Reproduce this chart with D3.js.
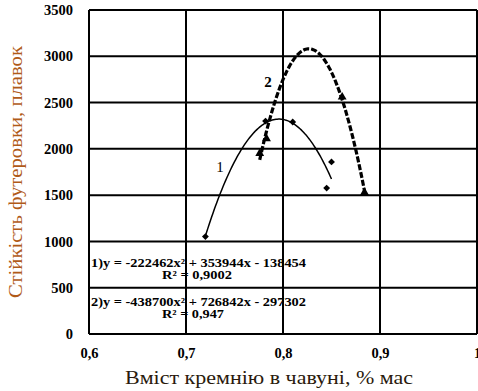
<!DOCTYPE html>
<html>
<head>
<meta charset="utf-8">
<script src="https://cdn.jsdelivr.net/npm/d3@7"></script>
<style>
  html, body { margin: 0; padding: 0; background: #fff; }
  svg { display: block; }
</style>
</head>
<body>
<svg id="chart" width="478" height="391"></svg>
<script>
// Silicon content in cast iron, % mass vs lining durability, heats
const xTicks = [0.6, 0.7, 0.8, 0.9, 1.0];
const yTicks = [0, 500, 1000, 1500, 2000, 2500, 3000, 3500];

const s1x = [0.72, 0.782, 0.81, 0.845, 0.85];
const s1y = [1052, 2300, 2290, 1576, 1859];

const s2x = [0.776, 0.783, 0.861, 0.884];
const s2y = [1950, 2110, 2560, 1530];

const eqLines = [
  { text: '1)y = -222462x\u00b2 + 353944x - 138454', r2: 'R\u00b2 = 0,9002' },
  { text: '2)y = -438700x\u00b2 + 726842x - 297302', r2: 'R\u00b2 = 0,947' }
];

const svg = d3.select('#chart');
const M = { left: 89, right: 477, top: 10, bottom: 334 };
const serif = '"Liberation Serif", serif';

const x = d3.scaleLinear().domain([0.6, 1.0]).range([M.left, M.right]);
const y = d3.scaleLinear().domain([0, 3500]).range([M.bottom, M.top]);
const fmtX = v => (v === 1 ? '1' : d3.format('.1f')(v).replace('.', ','));

// Quadratic least squares fit (Excel-style polynomial trendline)
function fitQuad(xs, ys) {
  const n = xs.length;
  let s = [0, 0, 0, 0, 0], t = [0, 0, 0];
  for (let i = 0; i < n; i++) {
    for (let k = 0; k < 5; k++) s[k] += Math.pow(xs[i], k);
    for (let k = 0; k < 3; k++) t[k] += ys[i] * Math.pow(xs[i], k);
  }
  const A = [[s[0], s[1], s[2], t[0]], [s[1], s[2], s[3], t[1]], [s[2], s[3], s[4], t[2]]];
  for (let i = 0; i < 3; i++) {
    for (let j = i + 1; j < 3; j++) {
      const f = A[j][i] / A[i][i];
      for (let k = i; k < 4; k++) A[j][k] -= f * A[i][k];
    }
  }
  const c = [0, 0, 0];
  for (let i = 2; i >= 0; i--) {
    let v = A[i][3];
    for (let k = i + 1; k < 3; k++) v -= A[i][k] * c[k];
    c[i] = v / A[i][i];
  }
  return xv => c[0] + c[1] * xv + c[2] * xv * xv;
}

// Grid
const grid = svg.append('g').attr('stroke', '#000').attr('stroke-width', 2);
grid.selectAll('.gx').data(xTicks).enter().append('line')
  .attr('x1', d => x(d)).attr('x2', d => x(d))
  .attr('y1', M.top).attr('y2', M.bottom);
grid.selectAll('.gy').data(yTicks).enter().append('line')
  .attr('x1', M.left).attr('x2', M.right)
  .attr('y1', d => y(d)).attr('y2', d => y(d));

// Tick labels
const yAxis = d3.axisLeft(y).tickValues(yTicks).tickFormat(d3.format('d')).tickSize(0).tickPadding(16);
svg.append('g').attr('transform', `translate(${M.left},0)`).call(yAxis)
  .call(g => g.select('.domain').remove())
  .selectAll('text')
  .attr('font-family', serif).attr('font-weight', 'bold')
  .attr('font-size', 14.5).attr('fill', '#000');

const xAxis = d3.axisBottom(x).tickValues(xTicks).tickFormat(fmtX).tickSize(0).tickPadding(14);
svg.append('g').attr('transform', `translate(0,${M.bottom})`).call(xAxis)
  .call(g => g.select('.domain').remove())
  .selectAll('text')
  .attr('font-family', serif).attr('font-weight', 'bold')
  .attr('font-size', 14.5).attr('fill', '#000');

// Trendlines
function trend(xs, ys) {
  const f = fitQuad(xs, ys);
  const lo = d3.min(xs), hi = d3.max(xs);
  return d3.range(0, 101).map(i => { const xv = lo + (hi - lo) * i / 100; return [xv, f(xv)]; });
}
const line = d3.line().x(d => x(d[0])).y(d => y(d[1]));

svg.append('path').datum(trend(s1x, s1y))
  .attr('d', line).attr('fill', 'none').attr('stroke', '#000').attr('stroke-width', 1.5);
svg.append('path').datum(trend(s2x, s2y))
  .attr('d', line).attr('fill', 'none').attr('stroke', '#000').attr('stroke-width', 3.2)
  .attr('stroke-dasharray', '6 2');

// Markers
svg.append('g').selectAll('path').data(d3.zip(s1x, s1y)).enter().append('path')
  .attr('d', d3.symbol().type(d3.symbolDiamond2).size(30))
  .attr('transform', d => `translate(${x(d[0])},${y(d[1])})`)
  .attr('fill', '#000');
svg.append('g').selectAll('path').data(d3.zip(s2x, s2y)).enter().append('path')
  .attr('d', d3.symbol().type(d3.symbolTriangle).size(34))
  .attr('transform', d => `translate(${x(d[0])},${y(d[1])})`)
  .attr('fill', '#000');

// Series labels
svg.append('text').attr('x', 220).attr('y', 172).attr('text-anchor', 'middle')
  .attr('font-family', serif).attr('font-size', 15).attr('fill', '#000').text('1');
svg.append('text').attr('x', 268).attr('y', 87).attr('text-anchor', 'middle')
  .attr('font-family', serif).attr('font-size', 15).attr('font-weight', 'bold')
  .attr('fill', '#000').text('2');

// Trendline equations
const eqY = [[267, 279], [306, 318]];
eqLines.forEach((e, i) => {
  svg.append('text').attr('x', 91).attr('y', eqY[i][0])
    .attr('font-family', serif).attr('font-weight', 'bold').attr('font-size', 11.5)
    .attr('textLength', 215).attr('lengthAdjust', 'spacingAndGlyphs')
    .attr('fill', '#000').text(e.text);
  svg.append('text').attr('x', 162).attr('y', eqY[i][1])
    .attr('font-family', serif).attr('font-weight', 'bold').attr('font-size', 11.5)
    .attr('textLength', i === 0 ? 70 : 62).attr('lengthAdjust', 'spacingAndGlyphs')
    .attr('fill', '#000').text(e.r2);
});

// Axis titles
svg.append('text')
  .attr('transform', `translate(22,${(M.top + M.bottom) / 2}) rotate(-90)`)
  .attr('text-anchor', 'middle')
  .attr('font-family', serif).attr('font-size', 19).attr('fill', '#b05a18')
  .attr('textLength', 252).attr('lengthAdjust', 'spacingAndGlyphs')
  .text('Стійкість футеровки, плавок');
svg.append('text').attr('x', 269).attr('y', 384).attr('text-anchor', 'middle')
  .attr('font-family', serif).attr('font-size', 19).attr('fill', '#2a1a0c')
  .attr('textLength', 288).attr('lengthAdjust', 'spacingAndGlyphs')
  .text('Вміст кремнію в чавуні, % мас');
</script>
</body>
</html>
